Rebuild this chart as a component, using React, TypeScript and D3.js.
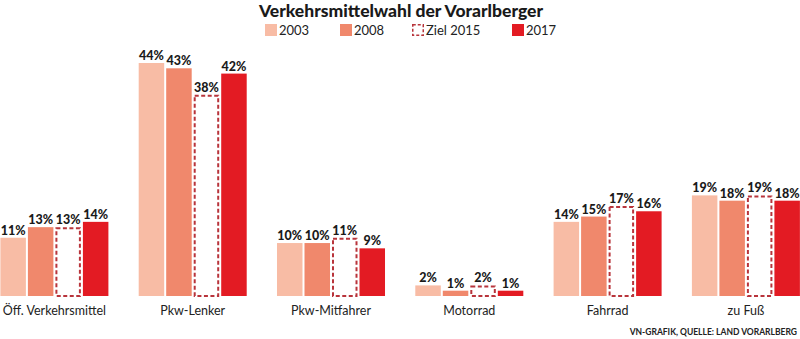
import React from "react";
import * as d3 from "d3";

const categories = ["Öff. Verkehrsmittel", "Pkw-Lenker", "Pkw-Mitfahrer", "Motorrad", "Fahrrad", "zu Fuß"];
const seriesNames = ["2003", "2008", "Ziel 2015", "2017"];
const values2003 = [11, 44, 10, 2, 14, 19];
const values2008 = [13, 43, 10, 1, 15, 18];
const valuesZiel2015 = [13, 38, 11, 2, 17, 19];
const values2017 = [14, 42, 9, 1, 16, 18];
const seriesColors = ["#f8bca5", "#f0886c", "#ffffff", "#e31b23"];
const dashColor = "#b8343b";
const title = "Verkehrsmittelwahl der Vorarlberger";
const source = "VN-GRAFIK, QUELLE: LAND VORARLBERG";

const W = 800, H = 339;
const baseline = 296;

export default function App() {
  const series = [values2003, values2008, valuesZiel2015, values2017];
  const x0 = d3.scaleBand<string>().domain(categories).range([-14.75, -14.75 + 6 * 138.3]).paddingInner(0.219).paddingOuter(0.1095);
  const x1 = d3.scaleBand<string>().domain(seriesNames).range([0, x0.bandwidth()]).paddingInner(0.073);
  const y = d3.scaleLinear().domain([0, 44]).range([baseline, baseline - 233]);

  const legendX = [265, 340, 412, 512];
  const font = "Lato, 'Open Sans', sans-serif";

  return (
    <svg width={W} height={H} style={{ position: "absolute", left: 0, top: 0, background: "#fff" }} fontFamily={font}>
      <text x={401} y={17} textAnchor="middle" fontSize={17.5} fontWeight={900} fill="#1a1a1a">{title}</text>
      {seriesNames.map((s, i) => (
        <g key={s}>
          {i === 2 ? (
            <rect x={legendX[i] + 0.75} y={24.75} width={10.5} height={10.5} fill="#fff" stroke={dashColor} strokeWidth={1.5} strokeDasharray="3 2" />
          ) : (
            <rect x={legendX[i]} y={24} width={12} height={12} fill={seriesColors[i]} />
          )}
          <text x={legendX[i] + 14} y={35} fontSize={13} fill="#222">{s}</text>
        </g>
      ))}
      {categories.map((c, ci) => (
        <g key={c} transform={`translate(${x0(c)},0)`}>
          {seriesNames.map((s, si) => {
            const v = series[si][ci];
            const bx = x1(s)!;
            const bw = x1.bandwidth();
            const top = y(v);
            return (
              <g key={s}>
                {si === 2 ? (
                  <rect x={bx + 1} y={top + 1} width={bw - 2} height={baseline - top - 1} fill="#fff" stroke={dashColor} strokeWidth={2} strokeDasharray="4 2.5" />
                ) : (
                  <rect x={bx} y={top} width={bw} height={baseline - top} fill={seriesColors[si]} />
                )}
                <text x={bx + bw / 2} y={top - 3} textAnchor="middle" fontSize={12.5} fontWeight={900} fill="#1a1a1a">{v}%</text>
              </g>
            );
          })}
          <text x={x0.bandwidth() / 2} y={315} textAnchor="middle" fontSize={12.5} fill="#222">{c}</text>
        </g>
      ))}
      <text x={797} y={335} textAnchor="end" fontSize={8.5} fontWeight={700} fill="#222">{source}</text>
    </svg>
  );
}
